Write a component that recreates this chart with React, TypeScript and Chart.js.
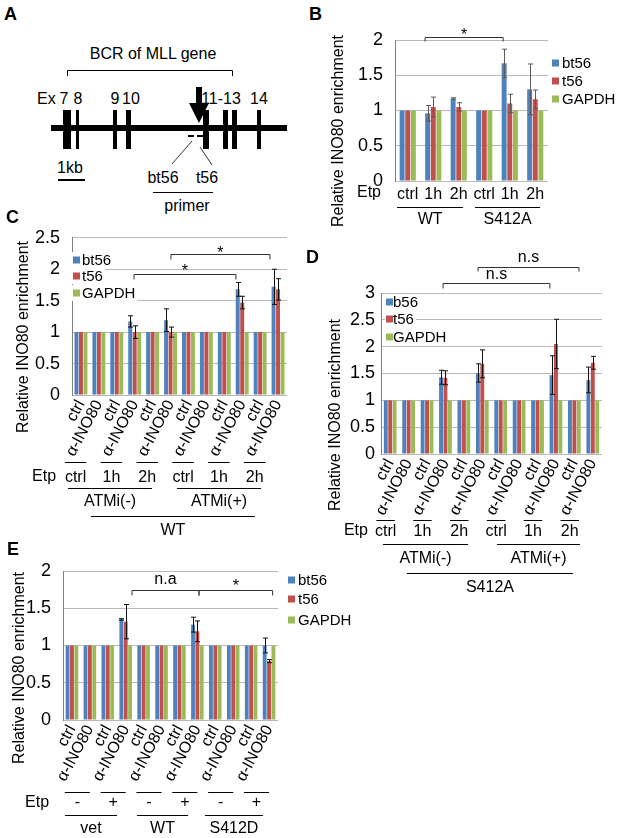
import { useEffect, useRef } from 'react';
import { Chart, registerables } from 'chart.js';

Chart.register(...registerables);

const FONT = "'Liberation Sans', Arial, Helvetica, sans-serif";
const COLORS = ['#4f81bd', '#c0504d', '#9bbb59'];

// ---------- Panel B ----------
const bCategories = ['ctrl', '1h', '2h', 'ctrl', '1h', '2h'];
const bBt56 = [1, 0.96, 1.17, 1, 1.67, 1.3];
const bBt56Err = [0, 0.11, 0.01, 0, 0.2, 0.36];
const bT56 = [1, 1.05, 1.05, 1, 1.1, 1.16];
const bT56Err = [0, 0.14, 0.06, 0, 0.13, 0.13];
const bGapdh = [1, 1, 1, 1, 1, 1];
const bLegend = ['bt56', 't56', 'GAPDH'];
const bGroups = ['WT', 'S412A'];

// ---------- Panel C ----------
const cCategories = ['ctrl', 'α-INO80', 'ctrl', 'α-INO80', 'ctrl', 'α-INO80', 'ctrl', 'α-INO80', 'ctrl', 'α-INO80', 'ctrl', 'α-INO80'];
const cBt56 = [1, 1, 1, 1.17, 1, 1.19, 1, 1, 1, 1.68, 1, 1.72];
const cBt56Err = [0, 0, 0, 0.09, 0, 0.18, 0, 0, 0, 0.11, 0, 0.28];
const cT56 = [1, 1, 1, 1.0, 1, 1.0, 1, 1, 1, 1.47, 1, 1.68];
const cT56Err = [0, 0, 0, 0.1, 0, 0.08, 0, 0, 0, 0.1, 0, 0.17];
const cGapdh = [1, 1, 1, 1, 1, 1, 1, 1, 1, 1, 1, 1];
const cLegend = ['bt56', 't56', 'GAPDH'];
const cEtp = ['ctrl', '1h', '2h', 'ctrl', '1h', '2h'];
const cAtmi = ['ATMi(-)', 'ATMi(+)'];
const cCell = ['WT'];

// ---------- Panel D ----------
const dCategories = ['ctrl', 'α-INO80', 'ctrl', 'α-INO80', 'ctrl', 'α-INO80', 'ctrl', 'α-INO80', 'ctrl', 'α-INO80', 'ctrl', 'α-INO80'];
const dBt56 = [1, 1, 1, 1.43, 1, 1.51, 1, 1, 1, 1.47, 1, 1.38];
const dBt56Err = [0, 0, 0, 0.13, 0, 0.17, 0, 0, 0, 0.36, 0, 0.24];
const dT56 = [1, 1, 1, 1.42, 1, 1.68, 1, 1, 1, 2.05, 1, 1.7];
const dT56Err = [0, 0, 0, 0.13, 0, 0.26, 0, 0, 0, 0.46, 0, 0.12];
const dGapdh = [1, 1, 1, 1, 1, 1, 1, 1, 1, 1, 1, 1];
const dLegend = ['b56', 't56', 'GAPDH'];
const dEtp = ['ctrl', '1h', '2h', 'ctrl', '1h', '2h'];
const dAtmi = ['ATMi(-)', 'ATMi(+)'];
const dCell = ['S412A'];

// ---------- Panel E ----------
const eCategories = ['ctrl', 'α-INO80', 'ctrl', 'α-INO80', 'ctrl', 'α-INO80', 'ctrl', 'α-INO80', 'ctrl', 'α-INO80', 'ctrl', 'α-INO80'];
const eBt56 = [1, 1, 1, 1.35, 1, 1, 1, 1.28, 1, 1, 1, 1.0];
const eBt56Err = [0, 0, 0, 0.01, 0, 0, 0, 0.1, 0, 0, 0, 0.1];
const eT56 = [1, 1, 1, 1.32, 1, 1, 1, 1.19, 1, 1, 1, 0.79];
const eT56Err = [0, 0, 0, 0.23, 0, 0, 0, 0.14, 0, 0, 0, 0.02];
const eGapdh = [1, 1, 1, 1, 1, 1, 1, 1, 1, 1, 1, 1];
const eLegend = ['bt56', 't56', 'GAPDH'];
const eEtp = ['-', '+', '-', '+', '-', '+'];
const eCell = ['vet', 'WT', 'S412D'];

const Y_TITLE = 'Relative INO80 enrichment';

type Row = { lineDy: number | null; textDy: number; items: { label: string; from: number; to: number }[] };
type Bracket = { from: number; to: number; value: number; label: string; labelDy: number; drop: number };

function pairRow(labels: string[], a: number, b: number, lineDy: number, textDy: number): Row {
  return { lineDy, textDy, items: labels.map((l, k) => ({ label: l, from: 2 * k + a, to: 2 * k + b })) };
}

function catX(chart: any, u: number) {
  const xs = chart.scales.x;
  const p0 = xs.getPixelForValue(0);
  const p1 = xs.getPixelForValue(1);
  return p0 + u * (p1 - p0);
}

function buildConfig(s: any) {
  const plugin = {
    id: 'decor',
    afterDatasetsDraw(chart: any) {
      const ctx = chart.ctx;
      const ys = chart.scales.y;
      ctx.save();
      ctx.strokeStyle = s.errColor;
      ctx.lineWidth = 1;
      s.errors.forEach((errs: number[], di: number) => {
        const meta = chart.getDatasetMeta(di);
        meta.data.forEach((bar: any, j: number) => {
          const e = errs[j];
          if (!e) return;
          const v = chart.data.datasets[di].data[j];
          const x = Math.round(bar.x) + 0.5;
          const yt = ys.getPixelForValue(v + e);
          const yb = ys.getPixelForValue(v - e);
          ctx.beginPath();
          ctx.moveTo(x, yt);
          ctx.lineTo(x, yb);
          ctx.moveTo(x - 2.5, yt);
          ctx.lineTo(x + 2.5, yt);
          ctx.moveTo(x - 2.5, yb);
          ctx.lineTo(x + 2.5, yb);
          ctx.stroke();
        });
      });
      ctx.restore();
    },
    afterDraw(chart: any) {
      const ctx = chart.ctx;
      const area = chart.chartArea;
      const ys = chart.scales.y;
      ctx.save();
      // y title
      ctx.fillStyle = '#000';
      ctx.font = `16px ${FONT}`;
      ctx.textAlign = 'center';
      ctx.textBaseline = 'middle';
      ctx.save();
      ctx.translate(s.yTitle.x, s.yTitle.y);
      ctx.rotate(-Math.PI / 2);
      ctx.fillText(Y_TITLE, 0, 0);
      ctx.restore();

      // legend
      const lg = s.legendPos;
      ctx.font = `15px ${FONT}`;
      ctx.textAlign = 'left';
      s.legend.forEach((txt: string, i: number) => {
        const y = lg.ys[i];
        if (lg.bg) {
          const w = ctx.measureText(txt).width;
          ctx.fillStyle = '#fff';
          ctx.fillRect(lg.x - 1, y - 8, lg.textX - lg.x + w + 3, 16);
        }
        ctx.fillStyle = COLORS[i];
        ctx.fillRect(lg.x, y - 3.5, 7, 7);
        ctx.fillStyle = '#000';
        ctx.fillText(txt, lg.textX, y + 1);
      });

      // brackets
      ctx.strokeStyle = '#333';
      ctx.lineWidth = 1;
      s.brackets.forEach((b: Bracket) => {
        const x1 = catX(chart, b.from);
        const x2 = catX(chart, b.to);
        const y = Math.round(ys.getPixelForValue(b.value)) + 0.5;
        ctx.beginPath();
        ctx.moveTo(x1, y + b.drop);
        ctx.lineTo(x1, y);
        ctx.lineTo(x2, y);
        ctx.lineTo(x2, y + b.drop);
        ctx.stroke();
        ctx.fillStyle = '#000';
        ctx.font = `16px ${FONT}`;
        ctx.textAlign = 'center';
        ctx.textBaseline = 'alphabetic';
        ctx.fillText(b.label, (x1 + x2) / 2, y + b.labelDy);
      });

      // rows below axis
      ctx.font = `16px ${FONT}`;
      ctx.textBaseline = 'middle';
      ctx.textAlign = 'center';
      s.rows.forEach((r: Row) => {
        r.items.forEach((it) => {
          const x1 = catX(chart, it.from);
          const x2 = catX(chart, it.to);
          if (r.lineDy !== null) {
            const ly = Math.round(area.bottom + r.lineDy) + 0.5;
            ctx.strokeStyle = '#000';
            ctx.beginPath();
            ctx.moveTo(x1, ly);
            ctx.lineTo(x2, ly);
            ctx.stroke();
          }
          ctx.fillStyle = '#000';
          ctx.fillText(it.label, (x1 + x2) / 2, area.bottom + r.textDy);
        });
      });
      // Etp label
      ctx.fillText('Etp', catX(chart, s.etp.u), area.bottom + s.etp.dy);
      ctx.restore();
    },
  };

  return {
    type: 'bar',
    data: {
      labels: s.categories,
      datasets: s.series.map((d: number[], i: number) => ({
        label: s.legend[i],
        data: d,
        backgroundColor: COLORS[i],
        borderWidth: 0,
        categoryPercentage: s.catPct,
        barPercentage: 0.88,
      })),
    },
    options: {
      responsive: false,
      animation: false,
      events: [],
      layout: { padding: { left: 0, right: s.w - s.plot.right, top: s.plot.top, bottom: 0 } },
      plugins: { legend: { display: false }, tooltip: { enabled: false }, title: { display: false } },
      scales: {
        x: {
          grid: { display: false, drawTicks: false },
          border: { display: false },
          ticks: {
            color: '#000',
            font: { size: 16, family: FONT },
            minRotation: s.rot,
            maxRotation: s.rot,
            autoSkip: false,
            padding: s.xPad,
          },
          afterFit: (sc: any) => {
            sc.height = s.h - s.plot.bottom;
          },
        },
        y: {
          min: 0,
          max: s.yMax,
          grid: { color: '#b8b8b8', drawTicks: false, lineWidth: 1 },
          border: { display: true, color: '#808080' },
          ticks: {
            stepSize: 0.5,
            color: '#000',
            font: { size: 18, family: FONT },
            padding: s.yPad,
            callback: (v: any) => String(Math.round(Number(v) * 10) / 10),
          },
          afterFit: (sc: any) => {
            sc.width = s.plot.left;
          },
        },
      },
    },
    plugins: [plugin],
  };
}

const specB = {
  left: 330, top: 0, w: 287, h: 235,
  plot: { left: 65, right: 218, top: 40, bottom: 181 },
  categories: bCategories,
  series: [bBt56, bT56, bGapdh],
  errors: [bBt56Err, bT56Err],
  errColor: '#5a5a5a',
  legend: bLegend,
  legendPos: { x: 222, textX: 232, ys: [63, 81, 99], bg: false },
  yMax: 2, yPad: 12, rot: 0, xPad: 4, catPct: 0.66,
  yTitle: { x: 9, y: 131 },
  etp: { u: -1.52, dy: 12 },
  brackets: [{ from: 0.68, to: 3.74, value: 2.043, label: '*', labelDy: 2, drop: 4 }],
  rows: [{ lineDy: 26, textDy: 39, items: [{ label: bGroups[0], from: -0.42, to: 2.17 }, { label: bGroups[1], from: 2.64, to: 5.19 }] }],
};

const specC = {
  left: 0, top: 215, w: 300, h: 330,
  plot: { left: 72, right: 287, top: 19, bottom: 180 },
  categories: cCategories,
  series: [cBt56, cT56, cGapdh],
  errors: [cBt56Err, cT56Err],
  errColor: '#111',
  legend: cLegend,
  legendPos: { x: 73, textX: 82, ys: [45, 61, 78], bg: true },
  yMax: 2.5, yPad: 12, rot: 62, xPad: 2, catPct: 0.75,
  yTitle: { x: 24, y: 122 },
  etp: { u: -2.06, dy: 82 },
  brackets: [
    { from: 2.96, to: 8.65, value: 1.925, label: '*', labelDy: 1, drop: 5 },
    { from: 5.02, to: 10.55, value: 2.236, label: '*', labelDy: 3, drop: 5 },
  ],
  rows: [
    pairRow(cEtp, -0.9, 0.3, 67, 83),
    { lineDy: 93, textDy: 107, items: [{ label: cAtmi[0], from: -0.72, to: 3.96 }, { label: cAtmi[1], from: 5.36, to: 10.05 }] },
    { lineDy: 121, textDy: 136, items: [{ label: cCell[0], from: 0.56, to: 9.71 }] },
  ],
};

const specD = {
  left: 300, top: 245, w: 317, h: 350,
  plot: { left: 81, right: 302, top: 48, bottom: 209 },
  categories: dCategories,
  series: [dBt56, dT56, dGapdh],
  errors: [dBt56Err, dT56Err],
  errColor: '#111',
  legend: dLegend,
  legendPos: { x: 86, textX: 93, ys: [57, 74, 92], bg: true },
  yMax: 3, yPad: 6, rot: 62, xPad: 2, catPct: 0.72,
  yTitle: { x: 36, y: 170 },
  etp: { u: -1.86, dy: 77 },
  brackets: [
    { from: 2.87, to: 8.67, value: 3.186, label: 'n.s', labelDy: -5, drop: 5 },
    { from: 4.77, to: 10.25, value: 3.484, label: 'n.s', labelDy: -6, drop: 4 },
  ],
  rows: [
    pairRow(dEtp, -0.75, 0.25, 66, 78),
    { lineDy: 90, textDy: 105, items: [{ label: dAtmi[0], from: -0.39, to: 4.22 }, { label: dAtmi[1], from: 5.8, to: 10.3 }] },
    { lineDy: 119, textDy: 134, items: [{ label: dCell[0], from: 0.91, to: 9.92 }] },
  ],
};

const specE = {
  left: 0, top: 545, w: 360, h: 293,
  plot: { left: 63, right: 278, top: 26, bottom: 175 },
  categories: eCategories,
  series: [eBt56, eT56, eGapdh],
  errors: [eBt56Err, eT56Err],
  errColor: '#111',
  legend: eLegend,
  legendPos: { x: 288, textX: 298, ys: [35, 54, 75], bg: false },
  yMax: 2, yPad: 12, rot: 62, xPad: 2, catPct: 0.73,
  yTitle: { x: 20, y: 123 },
  etp: { u: -1.95, dy: 83 },
  brackets: [
    { from: 3.35, to: 7.09, value: 1.745, label: 'n.a', labelDy: -7, drop: 5 },
    { from: 7.09, to: 11.2, value: 1.745, label: '*', labelDy: 0, drop: 5 },
  ],
  rows: [
    pairRow(eEtp, -0.4, 1.0, 72, 83),
    { lineDy: 95, textDy: 109, items: [{ label: eCell[0], from: -0.39, to: 2.51 }, { label: eCell[1], from: 3.63, to: 6.48 }, { label: eCell[2], from: 7.42, to: 10.66 }] },
  ],
};

function ChartPanel({ spec }: { spec: any }) {
  const ref = useRef<HTMLCanvasElement | null>(null);
  useEffect(() => {
    if (!ref.current) return;
    const chart = new Chart(ref.current, buildConfig(spec) as any);
    return () => chart.destroy();
  }, [spec]);
  return (
    <canvas
      ref={ref}
      width={spec.w}
      height={spec.h}
      style={{ position: 'absolute', left: spec.left, top: spec.top, width: spec.w, height: spec.h }}
    />
  );
}

function PanelA() {
  const exons = [
    [63, 8], [76, 3], [113, 4], [126, 5], [203, 6], [223, 5], [232, 5], [257, 4],
  ];
  return (
    <svg width={330} height={215} style={{ position: 'absolute', left: 0, top: 0 }} fontFamily={FONT}>
      <text x={153} y={59} fontSize={16} textAnchor="middle">BCR of MLL gene</text>
      <path d="M67.5,76 L67.5,70.5 L232.5,70.5 L232.5,76" stroke="#000" fill="none" strokeWidth={1} />
      <text x={37} y={104} fontSize={16}>Ex</text>
      <text x={64} y={104} fontSize={16} textAnchor="middle">7</text>
      <text x={78} y={104} fontSize={16} textAnchor="middle">8</text>
      <text x={115} y={104} fontSize={16} textAnchor="middle">9</text>
      <text x={131} y={104} fontSize={16} textAnchor="middle">10</text>
      <text x={221} y={104} fontSize={16} textAnchor="middle">11-13</text>
      <text x={259} y={104} fontSize={16} textAnchor="middle">14</text>
      <rect x={51} y={125} width={236} height={6} fill="#000" />
      {exons.map(([x, w], i) => (
        <rect key={i} x={x} y={110} width={w} height={39} fill="#000" />
      ))}
      <rect x={196} y={87} width={6} height={17} fill="#000" />
      <polygon points="189,103 209,103 199,123" fill="#000" />
      <rect x={188} y={135} width={6} height={2} fill="#000" />
      <rect x={197} y={135} width={6} height={2} fill="#000" />
      <line x1={192} y1={141} x2={172} y2={164} stroke="#000" strokeWidth={0.8} />
      <line x1={200} y1={147} x2={212} y2={165} stroke="#000" strokeWidth={0.8} />
      <text x={163} y={183} fontSize={16} textAnchor="middle">bt56</text>
      <text x={207} y={183} fontSize={16} textAnchor="middle">t56</text>
      <line x1={153} y1={192.5} x2={213} y2={192.5} stroke="#000" strokeWidth={1} />
      <text x={187} y={211} fontSize={16} textAnchor="middle">primer</text>
      <text x={70} y={173} fontSize={16} textAnchor="middle">1kb</text>
      <rect x={58} y={179} width={27} height={2} fill="#000" />
    </svg>
  );
}

const letterStyle = (left: number, top: number) => ({
  position: 'absolute' as const,
  left,
  top,
  fontFamily: FONT,
  fontWeight: 'bold' as const,
  fontSize: 18,
  lineHeight: '18px',
  color: '#000',
});

export default function App() {
  return (
    <div style={{ position: 'absolute', left: 0, top: 0, width: 617, height: 838, background: '#fff', overflow: 'hidden' }}>
      <PanelA />
      <ChartPanel spec={specB} />
      <ChartPanel spec={specC} />
      <ChartPanel spec={specD} />
      <ChartPanel spec={specE} />
      <div style={letterStyle(4, 5)}>A</div>
      <div style={letterStyle(309, 5)}>B</div>
      <div style={letterStyle(6, 208)}>C</div>
      <div style={letterStyle(306, 248)}>D</div>
      <div style={letterStyle(7, 540)}>E</div>
    </div>
  );
}
